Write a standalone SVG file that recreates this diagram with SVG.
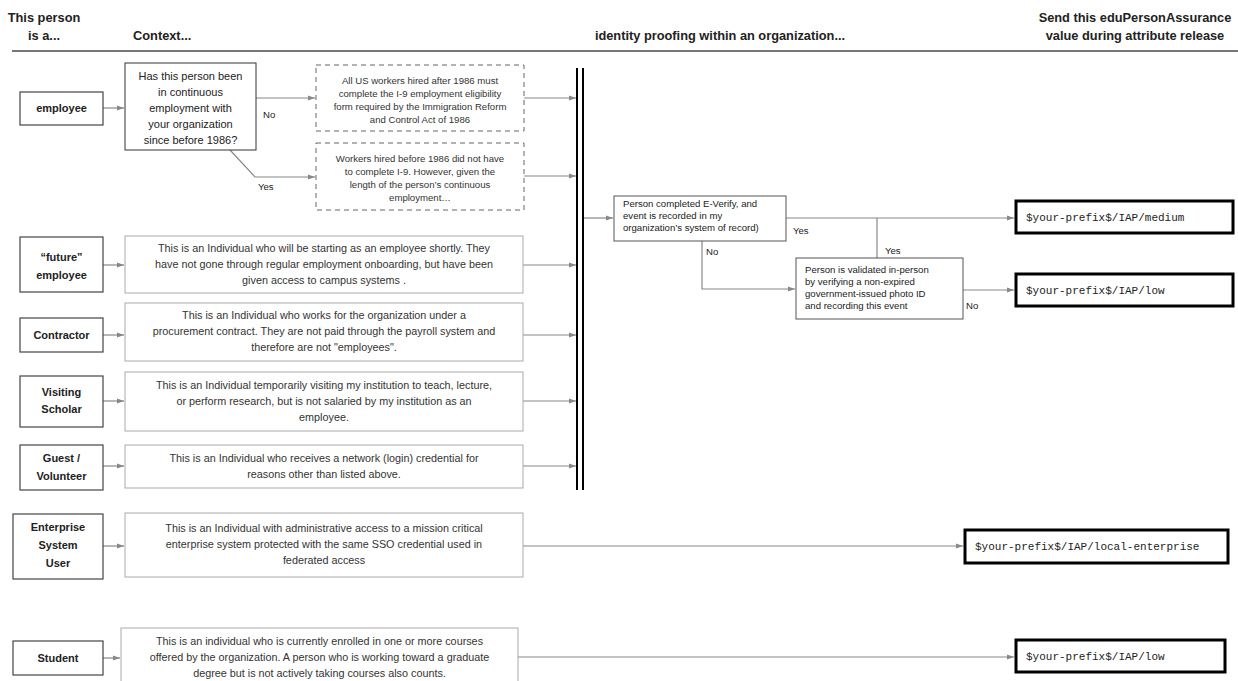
<svg xmlns="http://www.w3.org/2000/svg" width="1238" height="681" viewBox="0 0 1238 681">
<defs>
<marker id="ah" markerWidth="8" markerHeight="6" refX="7" refY="3" orient="auto" markerUnits="userSpaceOnUse">
<path d="M0,0.5 L7,3 L0,5.5 z" fill="#888"/>
</marker>
<style>
text{font-family:"Liberation Sans",Arial,sans-serif;fill:#222}
.h{font-size:12.8px;font-weight:bold;text-anchor:middle}
.hl{font-size:12.8px;font-weight:bold}
.who{fill:#fff;stroke:#444;stroke-width:1.2}
.whot{font-size:11px;font-weight:bold;text-anchor:middle}
.ctx{fill:#fff;stroke:#aaa;stroke-width:1}
.ctxt{font-size:10.8px;text-anchor:middle;fill:#333}
.q{fill:#fff;stroke:#333;stroke-width:1}
.qt{font-size:11px;text-anchor:middle;fill:#222}
.dash{fill:#fff;stroke:#666;stroke-width:1;stroke-dasharray:5,4}
.dt{font-size:9.6px;text-anchor:middle;fill:#333}
.dec{fill:#fff;stroke:#555;stroke-width:1}
.dect{font-size:9.6px;fill:#222}
.out{fill:#fff;stroke:#000;stroke-width:3}
.outt{font-family:"Liberation Mono","Courier New",monospace;font-size:11px;fill:#222}
.lbl{font-size:9.6px;fill:#222}
.c{fill:none;stroke:#888;stroke-width:1.2}
.ca{fill:none;stroke:#888;stroke-width:1.2;marker-end:url(#ah)}
.bar{stroke:#000;stroke-width:2}
</style>
</defs>

<g id="header">
<text class="h" x="44" y="22">This person</text>
<text class="h" x="44" y="40">is a...</text>
<text class="hl" x="133" y="40">Context...</text>
<text class="h" x="720" y="40">identity proofing within an organization...</text>
<text class="h" x="1135" y="22">Send this eduPersonAssurance</text>
<text class="h" x="1135" y="40">value during attribute release</text>
<line x1="12" y1="51" x2="1238" y2="51" stroke="#777" stroke-width="2"/>
</g>

<g id="connectors">
<line class="ca" x1="103" y1="108" x2="124" y2="108"/>
<line class="ca" x1="256" y1="98" x2="315" y2="98"/>
<polyline class="ca" points="230,150 255,177 315,177"/>
<line class="ca" x1="524" y1="98" x2="576" y2="98"/>
<line class="ca" x1="524" y1="176" x2="576" y2="176"/>
<line class="ca" x1="103" y1="265" x2="124" y2="265"/>
<line class="ca" x1="523" y1="265" x2="576" y2="265"/>
<line class="ca" x1="103" y1="335" x2="124" y2="335"/>
<line class="ca" x1="523" y1="335" x2="576" y2="335"/>
<line class="ca" x1="103" y1="401" x2="124" y2="401"/>
<line class="ca" x1="523" y1="401" x2="576" y2="401"/>
<line class="ca" x1="103" y1="466" x2="124" y2="466"/>
<line class="ca" x1="523" y1="466" x2="576" y2="466"/>
<line class="ca" x1="103" y1="546" x2="124" y2="546"/>
<line class="ca" x1="523" y1="546" x2="963" y2="546"/>
<line class="ca" x1="103" y1="658" x2="120" y2="658"/>
<line class="ca" x1="518" y1="657" x2="1014" y2="657"/>
<line class="ca" x1="584" y1="218" x2="613" y2="218"/>
<line class="ca" x1="786" y1="218" x2="1014" y2="218"/>
<line class="c" x1="877" y1="218" x2="877" y2="258"/>
<polyline class="ca" points="702,241 702,289 795,289"/>
<line class="ca" x1="963" y1="290" x2="1014" y2="290"/>
<line class="bar" x1="577" y1="68" x2="577" y2="490"/>
<line class="bar" x1="583" y1="68" x2="583" y2="490"/>
<text class="lbl" x="263" y="118">No</text>
<text class="lbl" x="258" y="190">Yes</text>
<text class="lbl" x="793" y="234">Yes</text>
<text class="lbl" x="885" y="254">Yes</text>
<text class="lbl" x="706" y="255">No</text>
<text class="lbl" x="966" y="309">No</text>
</g>

<g id="employee">
<rect class="who" x="20" y="92" width="83" height="33"/>
<text class="whot" x="61.5" y="112">employee</text>
</g>

<g id="q-continuous">
<rect class="q" x="125" y="63" width="131" height="87"/>
<text class="qt" x="190.5" y="80">Has this person been</text>
<text class="qt" x="190.5" y="96">in continuous</text>
<text class="qt" x="190.5" y="112">employment with</text>
<text class="qt" x="190.5" y="128">your organization</text>
<text class="qt" x="190.5" y="144">since before 1986?</text>
</g>

<g id="i9-after">
<rect class="dash" x="316" y="65" width="208" height="66"/>
<text class="dt" x="420" y="84">All US workers hired after 1986 must</text>
<text class="dt" x="420" y="97">complete the I-9 employment eligibility</text>
<text class="dt" x="420" y="110">form required by the Immigration Reform</text>
<text class="dt" x="420" y="123">and Control Act of 1986</text>
</g>

<g id="i9-before">
<rect class="dash" x="316" y="143" width="208" height="67"/>
<text class="dt" x="420" y="162">Workers hired before 1986 did not have</text>
<text class="dt" x="420" y="175">to complete I-9. However, given the</text>
<text class="dt" x="420" y="188">length of the person’s continuous</text>
<text class="dt" x="420" y="201">employment…</text>
</g>

<g id="future-employee">
<rect class="who" x="20" y="237" width="83" height="55"/>
<text class="whot" x="61.5" y="261">“future”</text>
<text class="whot" x="61.5" y="279">employee</text>
<rect class="ctx" x="125" y="236" width="398" height="57"/>
<text class="ctxt" x="324" y="252">This is an Individual who will be starting as an employee shortly. They</text>
<text class="ctxt" x="324" y="268">have not gone through regular employment onboarding, but have been</text>
<text class="ctxt" x="324" y="284">given access to campus systems .</text>
</g>

<g id="contractor">
<rect class="who" x="20" y="318" width="83" height="34"/>
<text class="whot" x="61.5" y="339">Contractor</text>
<rect class="ctx" x="125" y="303" width="398" height="58"/>
<text class="ctxt" x="324" y="319">This is an Individual who works for the organization under a</text>
<text class="ctxt" x="324" y="335">procurement contract. They are not paid through the payroll system and</text>
<text class="ctxt" x="324" y="351">therefore are not "employees".</text>
</g>

<g id="visiting-scholar">
<rect class="who" x="20" y="376" width="83" height="51"/>
<text class="whot" x="61.5" y="396">Visiting</text>
<text class="whot" x="61.5" y="413">Scholar</text>
<rect class="ctx" x="125" y="372" width="398" height="59"/>
<text class="ctxt" x="324" y="389">This is an Individual temporarily visiting my institution to teach, lecture,</text>
<text class="ctxt" x="324" y="405">or perform research, but is not salaried by my institution as an</text>
<text class="ctxt" x="324" y="421">employee.</text>
</g>

<g id="guest-volunteer">
<rect class="who" x="20" y="445" width="83" height="45"/>
<text class="whot" x="61.5" y="462">Guest /</text>
<text class="whot" x="61.5" y="480">Volunteer</text>
<rect class="ctx" x="125" y="445" width="398" height="43"/>
<text class="ctxt" x="324" y="462">This is an Individual who receives a network (login) credential for</text>
<text class="ctxt" x="324" y="478">reasons other than listed above.</text>
</g>

<g id="enterprise-user">
<rect class="who" x="13" y="514" width="90" height="65"/>
<text class="whot" x="58" y="531">Enterprise</text>
<text class="whot" x="58" y="549">System</text>
<text class="whot" x="58" y="567">User</text>
<rect class="ctx" x="125" y="513" width="398" height="64"/>
<text class="ctxt" x="324" y="532">This is an Individual with administrative access to a mission critical</text>
<text class="ctxt" x="324" y="548">enterprise system protected with the same SSO credential used in</text>
<text class="ctxt" x="324" y="564">federated access</text>
</g>

<g id="student">
<rect class="who" x="13" y="641" width="90" height="34"/>
<text class="whot" x="58" y="662">Student</text>
<rect class="ctx" x="121" y="628" width="397" height="55"/>
<text class="ctxt" x="319.5" y="645">This is an individual who is currently enrolled in one or more courses</text>
<text class="ctxt" x="319.5" y="661">offered by the organization. A person who is working toward a graduate</text>
<text class="ctxt" x="319.5" y="677">degree but is not actively taking courses also counts.</text>
</g>

<g id="e-verify">
<rect class="dec" x="614" y="196" width="172" height="45"/>
<text class="dect" x="623" y="207">Person completed E-Verify, and</text>
<text class="dect" x="623" y="219">event is recorded in my</text>
<text class="dect" x="623" y="231">organization’s system of record)</text>
</g>

<g id="in-person">
<rect class="dec" x="796" y="258" width="167" height="61"/>
<text class="dect" x="805" y="273">Person is validated in-person</text>
<text class="dect" x="805" y="285">by verifying a non-expired</text>
<text class="dect" x="805" y="297">government-issued photo ID</text>
<text class="dect" x="805" y="309">and recording this event</text>
</g>

<g id="out-medium">
<rect class="out" x="1016" y="201" width="217" height="32"/>
<text class="outt" x="1026" y="221">$your-prefix$/IAP/medium</text>
</g>

<g id="out-low">
<rect class="out" x="1016" y="274" width="217" height="32"/>
<text class="outt" x="1026" y="294">$your-prefix$/IAP/low</text>
</g>

<g id="out-local-enterprise">
<rect class="out" x="965" y="530" width="263" height="33"/>
<text class="outt" x="975" y="550">$your-prefix$/IAP/local-enterprise</text>
</g>

<g id="out-student-low">
<rect class="out" x="1016" y="640" width="209" height="32"/>
<text class="outt" x="1026" y="660">$your-prefix$/IAP/low</text>
</g>
</svg>
